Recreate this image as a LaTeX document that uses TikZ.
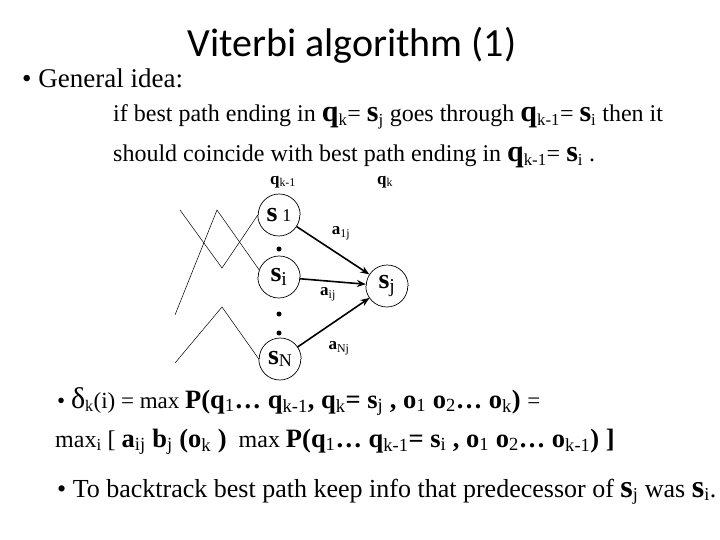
\documentclass[tikz,border=0pt]{standalone}
\usepackage{fontspec}
\setmainfont{Liberation Serif}
\newfontfamily\titlefont{Carlito}
\usetikzlibrary{arrows.meta}
\newcommand{\Bg}[1]{{\fontsize{30}{32}\selectfont\bfseries #1}}
\newcommand{\Bf}[1]{{\fontsize{26.5}{30}\selectfont\bfseries #1}}
\newcommand{\Bl}[1]{{\fontsize{32}{34}\selectfont\bfseries #1}}
\newcommand{\sbs}[1]{\textsubscript{\mdseries #1}}
\tikzset{
  stnode/.style={circle,minimum size=42pt,inner sep=0pt,font=\fontsize{28}{30}\selectfont\bfseries},
  ring/.style={draw=black,line width=0.7pt},
  txt/.style={anchor=base west,inner sep=0pt,font=\fontsize{24}{28}\selectfont},
  lbl/.style={inner sep=0pt,font=\fontsize{17}{19}\selectfont\bfseries},
  trans/.style={line width=1.6pt,-{Stealth[length=9pt,width=7pt]}},
  zig/.style={line width=0.5pt},
  dot/.style={circle,fill,inner sep=0pt,minimum size=5pt}
}
\begin{document}
\begin{tikzpicture}[x=1pt,y=-1pt]
\useasboundingbox (0,0) rectangle (720,540);
\node[anchor=base,inner sep=0pt,font=\titlefont\fontsize{40}{42}\selectfont] (title) at (352,57) {Viterbi algorithm (1)};
\node[txt,font=\fontsize{27}{30}\selectfont] (gi) at (22,88) {\textbullet\ General idea:};
\node[txt] (l1) at (113,122) {if best path ending in \Bg{q}\sbs{k}= \Bg{s}\sbs{j} goes through \Bg{q}\sbs{k-1}= \Bg{s}\sbs{i} then it};
\node[txt] (l2) at (113,162) {should coincide with best path ending in \Bg{q}\sbs{k-1}= \Bg{s}\sbs{i} .};

\node[lbl] (qk1) at (283,182) {q\sbs{k-1}};
\node[lbl] (qk) at (385,182) {q\sbs{k}};

\node[stnode] (s1) at (279,215) {s\,{\mdseries\fontsize{18}{20}\selectfont 1}};
\node[stnode] (si) at (279,277) {s\sbs{i}};
\node[stnode] (sN) at (280,359) {s\raisebox{-2pt}{\mdseries\fontsize{18}{20}\selectfont N}};
\node[stnode] (sj) at (387,286) {s\sbs{j}};
\foreach \n in {s1,si,sN,sj}{
  \draw[ring] (\n.east) arc[start angle=0,end angle=180,radius=21pt];
  \draw[ring] (\n.west) arc[start angle=180,end angle=360,radius=21pt];
}

\node[dot] (d1) at (279,249) {};
\node[dot] (d2) at (279,314) {};
\node[dot] (d3) at (279,333) {};

\draw[trans] (s1) -- (sj);
\draw[trans] (si) -- (sj);
\draw[trans] (sN) -- (sj);
\node[lbl] (a1j) at (341,233) {a\sbs{1j}};
\node[lbl] (aij) at (328,294) {a\sbs{ij}};
\node[lbl] (aNj) at (339,348) {a\sbs{Nj}};

\coordinate (z1a) at (180,210);
\coordinate (z1b) at (222,268);
\coordinate (z2a) at (175,315);
\coordinate (z2b) at (217,210);
\coordinate (z3a) at (175,363);
\coordinate (z3b) at (222,307);
\draw[zig] (z1a) -- (z1b) -- (s1.west);
\draw[zig] (z2a) -- (z2b) -- (si.160);
\draw[zig] (z3a) -- (z3b) -- (sN.west);

\node[txt] (f1) at (57,408) {\fontsize{23}{26}\selectfont\textbullet\ {\fontsize{30}{32}\selectfont δ}\sbs{k}(i) = max \Bf{P(q\sbs{1}… q\sbs{k-1}, q\sbs{k}= s\sbs{j} , o\sbs{1} o\sbs{2}… o\sbs{k}) }=};
\node[txt] (f2) at (55,447) {\fontsize{24}{26}\selectfont max\sbs{i} [ \Bf{a\sbs{ij} b\sbs{j} (o\sbs{k} )} \ max \Bf{P(q\sbs{1}… q\sbs{k-1}= s\sbs{i} , o\sbs{1} o\sbs{2}… o\sbs{k-1}) ]}};
\node[txt,font=\fontsize{26}{30}\selectfont] (f3) at (57,497) {\textbullet\ To backtrack best path keep info that predecessor of \Bl{s}\sbs{j} was \Bl{s}\sbs{i}.};
\end{tikzpicture}
\end{document}
